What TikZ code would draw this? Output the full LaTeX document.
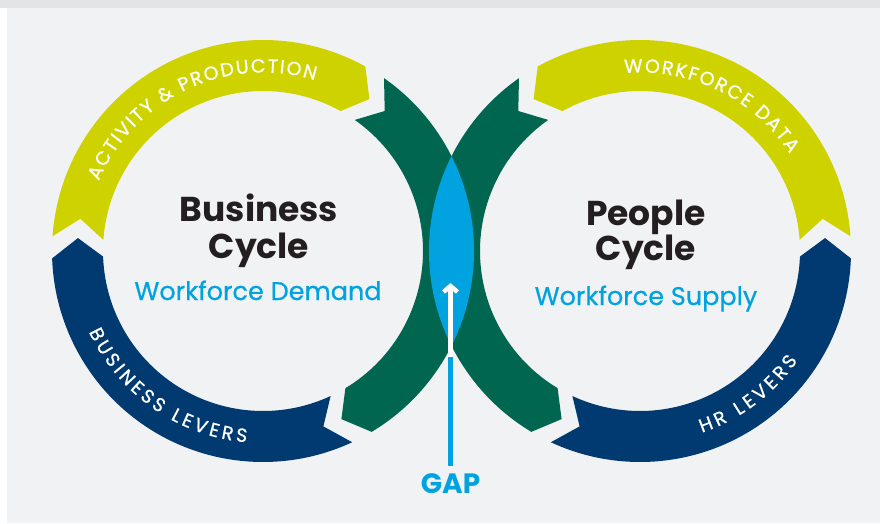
\documentclass[tikz,border=0pt]{standalone}
\usepackage{fontspec}
\setmainfont{Poppins}
\newfontfamily\arcfont[FakeBold=0.7]{Poppins}
\newfontfamily\subfont[FakeBold=0.6]{Poppins}
\newcommand{\arcsize}{\arcfont\fontsize{19}{19}\selectfont}
\usetikzlibrary{decorations.text,arrows.meta}
\definecolor{cyel}{RGB}{206,211,0}
\definecolor{cgreen}{RGB}{0,102,80}
\definecolor{cnavy}{RGB}{0,58,112}
\definecolor{cblue}{RGB}{0,163,224}
\definecolor{cbg}{RGB}{241,242,244}
\definecolor{cstrip}{RGB}{227,228,230}
\definecolor{cink}{RGB}{35,31,32}
\newcommand{\Ro}{211}
\newcommand{\Ri}{160}
\newcommand{\Rm}{185.5}
% #1 tail angle, #2 head angle, #3 depth, #4 colour
\newcommand{\ringseg}[4]{%
  \fill[#4] (#1:\Ro) arc[start angle=#1, end angle=#2, radius=\Ro]
    -- ({#2-#3}:\Rm) -- (#2:\Ri)
    arc[start angle=#2, end angle=#1, radius=\Ri]
    -- ({#1-#3}:\Rm) -- cycle;}
\tikzset{
  titletext/.style={font=\fontsize{34.5}{35}\selectfont\bfseries, text=cink, inner sep=0pt, anchor=base},
  subtext/.style={font=\subfont\fontsize{25.5}{26}\selectfont, text=cblue, inner sep=0pt, anchor=base},
  gaptext/.style={font=\fontsize{28}{28}\selectfont\bfseries, text=cblue, inner sep=0pt, anchor=base},
  arctext/.style 2 args={decorate, decoration={text effects along path, text={#1}, text align=center,
      text effects/.cd, text along path,
      character widths={inner xsep=#2, font=\arcsize},
      characters={text=white, font=\arcsize}}}
}
\begin{document}
\begin{tikzpicture}[x=1pt,y=1pt]
\useasboundingbox (0,0) rectangle (880,523);
\fill[cbg] (0,0) rectangle (880,523);
\fill[white] (0,0) rectangle (7,523);
\fill[cstrip] (0,515) rectangle (880,523);

\coordinate (L) at (263,272);
\coordinate (R) at (640,272);

% left cycle (clockwise)
\begin{scope}[shift={(L)}]
  \ringseg{176}{61}{6}{cyel}
  \ringseg{55}{-59}{6}{cgreen}
  \ringseg{295}{182}{6}{cnavy}
\end{scope}
% right cycle (mirror)
\begin{scope}[shift={(R)}, xscale=-1]
  \ringseg{176}{61}{6}{cyel}
  \ringseg{55}{-59}{6}{cgreen}
  \ringseg{295}{182}{6}{cnavy}
\end{scope}

% lens (gap)
\begin{scope}
  \clip (L) circle[radius=211];
  \fill[cblue] (R) circle[radius=211];
\end{scope}

% arc labels
\begin{scope}[shift={(L)}]
  \path[arctext={ACTIVITY {\&} PRODUCTION}{0.85pt}] (175:178.5) arc[start angle=175, end angle=55, radius=178.5];
  \path[arctext={BUSINESS LEVERS}{1.7pt}] (175:192) arc[start angle=175, end angle=295, radius=192];
\end{scope}
\begin{scope}[shift={(R)}]
  \path[arctext={WORKFORCE DATA}{0.85pt}] (124:178.5) arc[start angle=124, end angle=4, radius=178.5];
  \path[arctext={HR LEVERS}{1.8pt}] (-113:192) arc[start angle=-113, end angle=7, radius=192];
\end{scope}

% titles
\node[titletext] (bus) at (259,302) {Business};
\node[titletext] (bcyc) at (259,265) {Cycle};
\node[subtext] (dem) at (258,223) {Workforce Demand};
\node[titletext] (peo) at (646,298) {People};
\node[titletext] (pcyc) at (646,263) {Cycle};
\node[subtext] (sup) at (646,218) {Workforce Supply};

% GAP
\node[gaptext] (gap) at (450.5,30) {GAP};
\coordinate (gm) at (450.5,166);
\coordinate (gt) at (450.5,240);
\draw[cblue, line width=4.5] ([yshift=7]gap.north) -- (gm);
\draw[white, line width=4.5, -{Straight Barb[length=6pt, width=14pt]}] (gm) -- (gt);
\end{tikzpicture}
\end{document}
